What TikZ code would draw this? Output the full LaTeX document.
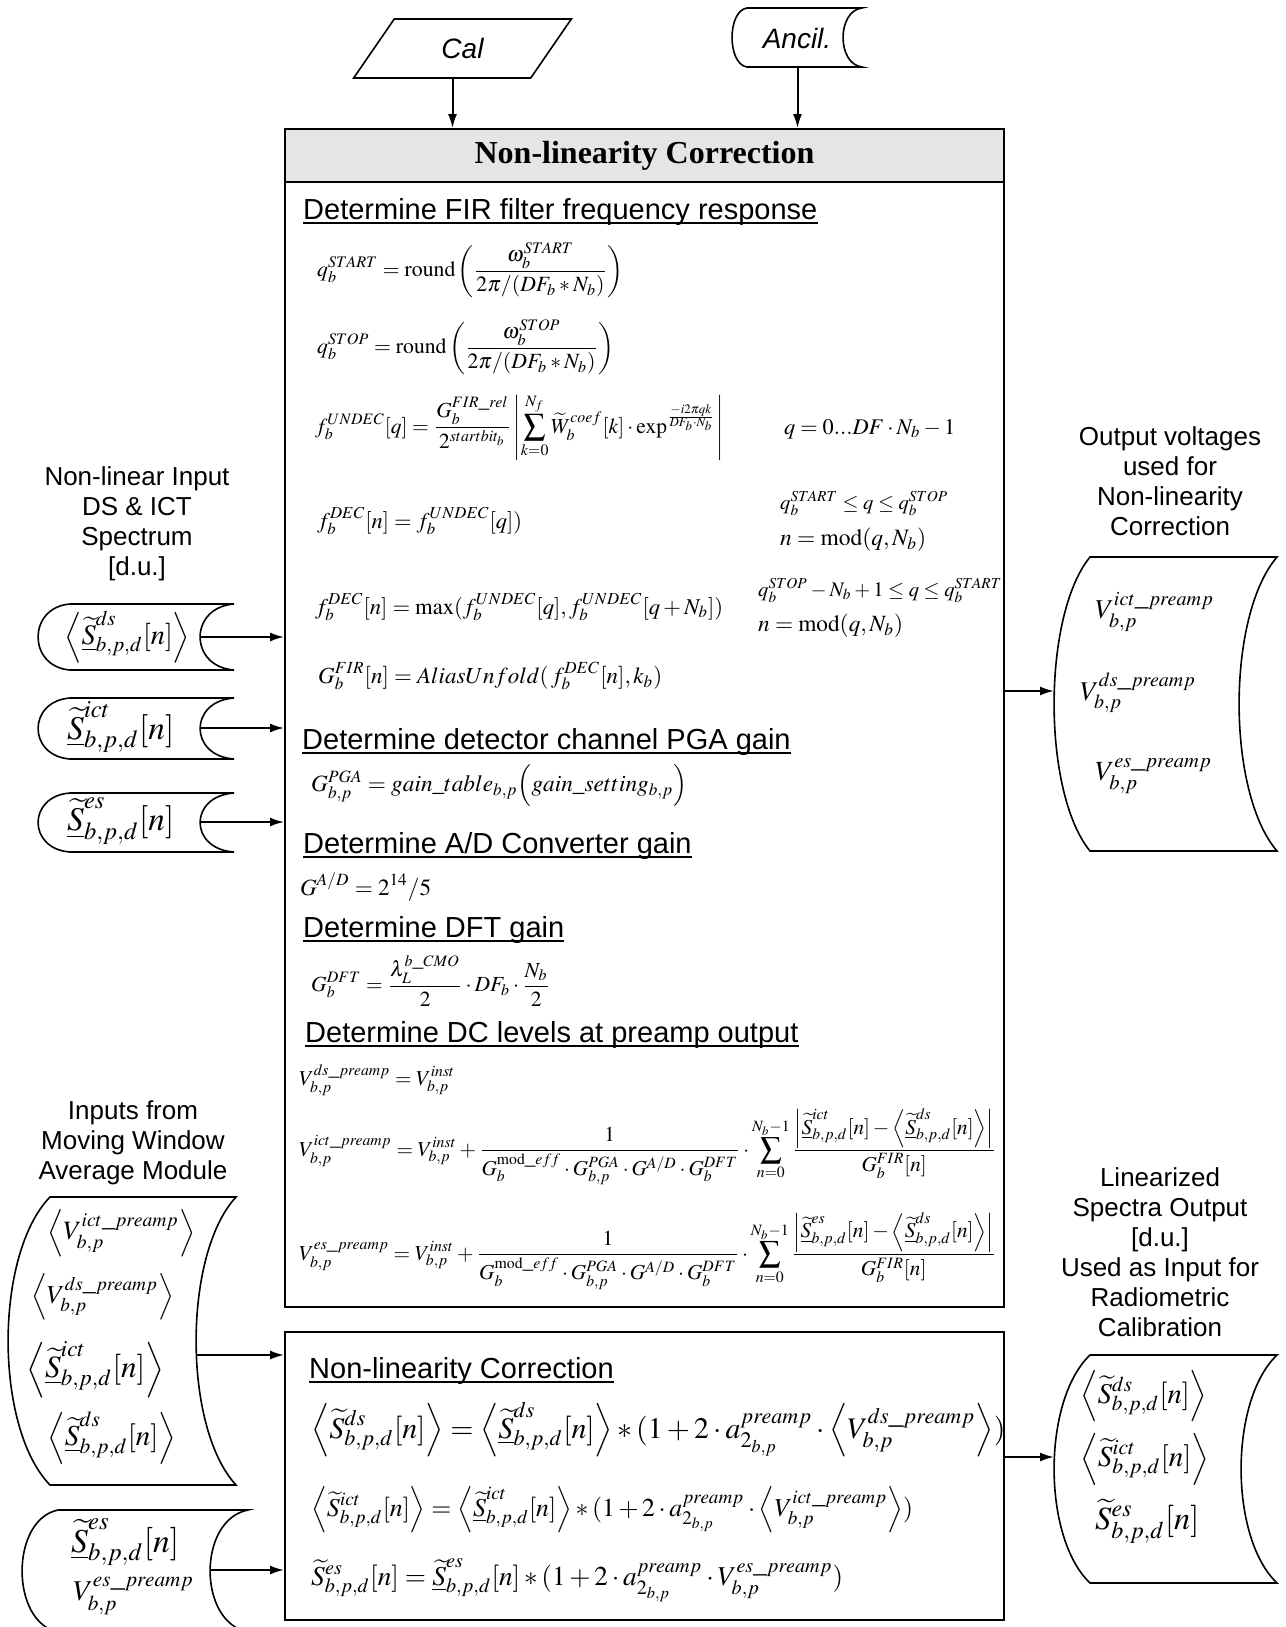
\documentclass[tikz,border=0pt]{standalone}
\usepackage{mathptmx}
\usepackage{graphicx}
\usepackage{fontspec}
\setmainfont{Liberation Serif}
\setsansfont{Liberation Sans}
\usetikzlibrary{arrows.meta, positioning, shapes.geometric, calc}

% symbols used in the spectra
\newcommand{\Stil}{\widetilde{S}}
\newcommand{\Sund}{\underline{\widetilde{S}}}
% equation scaled to a given width (pt)
\newcommand{\eqbox}[2]{\resizebox{#1pt}{!}{$\displaystyle #2$}}
% stored data shape: name, left, right, top, bottom, left bulge, right bulge, corner slope, arrow y
\newcommand{\datastore}[9]{%
  \pgfmathsetmacro{\dsk}{#8*(#5-#4)}%
  \draw[storeline] (#2,#4) -- (#3,#4)
    .. controls ({#3-1.33*#7},{#4+\dsk}) and ({#3-1.33*#7},{#5-\dsk}) .. (#3,#5)
    -- (#2,#5)
    .. controls ({#2-1.33*#6},{#5-\dsk}) and ({#2-1.33*#6},{#4+\dsk}) .. cycle;
  \coordinate (#1-w) at ({#2-#6},#9);
  \coordinate (#1-e) at ({#3-#7},#9);
  \coordinate (#1-s) at ({(#2+#3)/2},#5);
}

\begin{document}
\begin{tikzpicture}[
    x=1pt, y=-1pt,
    >={Latex[length=14pt,width=9pt]},
    box/.style={draw, line width=1.8pt, minimum width=719pt},
    headbar/.style={draw, line width=1.8pt, fill=black!10, minimum width=719pt,
                    minimum height=53pt, font=\fontsize{32}{36}\selectfont\rmfamily\bfseries},
    heading/.style={anchor=base west, inner sep=0pt,
                    font=\fontsize{29}{33}\selectfont\sffamily},
    eq/.style={anchor=west, inner sep=0pt},
    sidelbl/.style={align=center, font=\fontsize{26}{30}\selectfont\sffamily},
    srclbl/.style={font=\fontsize{28}{32}\selectfont\sffamily\itshape},
    storeline/.style={line width=1.6pt},
    flow/.style={->, line width=2pt},
    ulline/.style={line width=2.2pt}
  ]
  \useasboundingbox (0,0) rectangle (1285,1627);

  % inputs on top
  \node[draw, line width=1.6pt, trapezium, trapezium left angle=62, trapezium right angle=118,
        trapezium stretches=true, minimum width=219pt, minimum height=59pt,
        srclbl] (cal) at (462.5,48.5) {Cal};
  \datastore{ancilbox}{747}{862}{8}{67}{15}{19}{0.05}{38}
  \node[srclbl] (ancil) at (797,38) {Ancil.};

  % main block
  \node[box, minimum height=1178pt] (nlc) at (644.5,718) {};
  \node[headbar, anchor=north] (nlchead) at (nlc.north) {Non-linearity Correction};
  \node[box, minimum height=288pt] (nlc2) at (644.5,1476) {};

  \draw[flow] ([xshift=-10pt]cal.south) -- ([xshift=-10pt]cal.south |- nlc.north);
  \draw[flow] ([xshift=-7pt]ancilbox-s) -- ([xshift=-7pt]ancilbox-s |- nlc.north);

  % FIR filter
  \node[heading] (fir) at (303,219) {Determine FIR filter frequency response};
  \node[eq] (qstart) at (317,270) {\eqbox{306}{q_b^{START} = \mathrm{round}\left(\frac{\omega_b^{START}}{2\pi/(DF_b * N_b)}\right)}};
  \node[eq] (qstop) at (317,347) {\eqbox{297}{q_b^{STOP} = \mathrm{round}\left(\frac{\omega_b^{STOP}}{2\pi/(DF_b * N_b)}\right)}};
  \node[eq] (fundec) at (315,427) {\eqbox{408}{f_b^{UNDEC}[q] = \frac{G_b^{FIR\_rel}}{2^{startbit_b}}\left|\sum_{k=0}^{N_f}\widetilde{W}_b^{coef}[k]\cdot\exp^{\frac{-i2\pi qk}{DF_b\cdot N_b}}\right|}};
  \node[eq] (qrange) at (784,429) {\eqbox{171}{q = 0...DF\cdot N_b - 1}};
  \node[eq] (fdec) at (317,521) {\eqbox{205}{f_b^{DEC}[n] = f_b^{UNDEC}[q])}};
  \node[eq] (cond1) at (780,503) {\eqbox{168}{q_b^{START} \le q \le q_b^{STOP}}};
  \node[eq] (mod1) at (780,540) {\eqbox{146}{n = \mathrm{mod}(q, N_b)}};
  \node[eq] (fdecmax) at (315,607) {\eqbox{408}{f_b^{DEC}[n] = \max(f_b^{UNDEC}[q], f_b^{UNDEC}[q+N_b])}};
  \node[eq] (cond2) at (758,590) {\eqbox{244}{q_b^{STOP} - N_b + 1 \le q \le q_b^{START}}};
  \node[eq] (mod2) at (758,626) {\eqbox{145}{n = \mathrm{mod}(q, N_b)}};
  \node[eq] (gfir) at (318,676) {\eqbox{344}{G_b^{FIR}[n] = AliasUnfold(\,f_b^{DEC}[n], k_b)}};

  % gains
  \node[heading] (pga) at (302,749) {Determine detector channel PGA gain};
  \node[eq] (gpga) at (311,786) {\eqbox{376}{G_{b,p}^{PGA} = gain\_table_{b,p}\Bigl(gain\_setting_{b,p}\Bigr)}};
  \node[heading] (adc) at (303,853) {Determine A/D Converter gain};
  \node[eq] (gadc) at (300,887) {\eqbox{131}{G^{A/D} = 2^{14}/5}};
  \node[heading] (dft) at (303,937) {Determine DFT gain};
  \node[eq] (gdft) at (311,981) {\eqbox{239}{G_b^{DFT} = \frac{\lambda_L^{b\_CMO}}{2}\cdot DF_b\cdot\frac{N_b}{2}}};

  % DC levels
  \node[heading] (dcl) at (305,1042) {Determine DC levels at preamp output};
  \node[eq] (vds) at (299,1080) {\eqbox{156}{V_{b,p}^{ds\_preamp} = V_{b,p}^{inst}}};
  \node[eq] (vict) at (299,1147) {\eqbox{697}{V_{b,p}^{ict\_preamp} = V_{b,p}^{inst} + \frac{1}{G_b^{\mathrm{mod}\_eff}\cdot G_{b,p}^{PGA}\cdot G^{A/D}\cdot G_b^{DFT}}\cdot\sum_{n=0}^{N_b-1}\frac{\left|\Sund_{b,p,d}^{ict}[n]-\left\langle\Sund_{b,p,d}^{ds}[n]\right\rangle\right|}{G_b^{FIR}[n]}}};
  \node[eq] (ves) at (299,1251) {\eqbox{697}{V_{b,p}^{es\_preamp} = V_{b,p}^{inst} + \frac{1}{G_b^{\mathrm{mod}\_eff}\cdot G_{b,p}^{PGA}\cdot G^{A/D}\cdot G_b^{DFT}}\cdot\sum_{n=0}^{N_b-1}\frac{\left|\Sund_{b,p,d}^{es}[n]-\left\langle\Sund_{b,p,d}^{ds}[n]\right\rangle\right|}{G_b^{FIR}[n]}}};

  % correction
  \node[heading] (nlchd) at (309,1378) {Non-linearity Correction};
  \node[eq] (corrds) at (311,1430) {\eqbox{694}{\left\langle\Stil_{b,p,d}^{ds}[n]\right\rangle = \left\langle\Sund_{b,p,d}^{ds}[n]\right\rangle * (1 + 2\cdot a_{2_{b,p}}^{preamp}\cdot\left\langle V_{b,p}^{ds\_preamp}\right\rangle)}};
  \node[eq] (corrict) at (311,1510) {\eqbox{602}{\left\langle\Stil_{b,p,d}^{ict}[n]\right\rangle = \left\langle\Sund_{b,p,d}^{ict}[n]\right\rangle * (1 + 2\cdot a_{2_{b,p}}^{preamp}\cdot\left\langle V_{b,p}^{ict\_preamp}\right\rangle)}};
  \node[eq] (corres) at (311,1580) {\eqbox{532}{\Stil_{b,p,d}^{es}[n] = \Sund_{b,p,d}^{es}[n] * (1 + 2\cdot a_{2_{b,p}}^{preamp}\cdot V_{b,p}^{es\_preamp})}};

  \foreach \h in {fir,pga,adc,dft,dcl,nlchd}
    \draw[ulline] ([yshift=-4pt]\h.base west) -- ([yshift=-4pt]\h.base east);

  % non-linear input spectra
  \node[sidelbl] (inlbl) at (137,524) {Non-linear Input\\DS \& ICT\\Spectrum\\{[d.u.]}};
  \datastore{sds}{70}{234}{604}{670}{32}{34}{0.05}{637}
  \node[eq] (sdsm) at (64,637) {\eqbox{126}{\left\langle\Sund_{b,p,d}^{ds}[n]\right\rangle}};
  \datastore{sict}{70}{234}{698}{759}{32}{34}{0.05}{728}
  \node[eq] (sictm) at (67,727) {\eqbox{107}{\Sund_{b,p,d}^{ict}[n]}};
  \datastore{ses}{70}{234}{793}{852}{32}{34}{0.05}{822}
  \node[eq] (sesm) at (67,821) {\eqbox{107}{\Sund_{b,p,d}^{es}[n]}};
  \foreach \s in {sds,sict,ses}
    \draw[flow] (\s-e) -- (\s-e -| nlc.west);

  % output voltages
  \node[sidelbl] (outlbl) at (1170,481) {Output voltages\\used for\\Non-linearity\\Correction};
  \datastore{vout}{1090}{1277}{557}{851}{36}{38}{0.2}{691}
  \node[eq] (voict) at (1095,612) {\eqbox{119}{V_{b,p}^{ict\_preamp}}};
  \node[eq] (vods) at (1080,693) {\eqbox{116}{V_{b,p}^{ds\_preamp}}};
  \node[eq] (voes) at (1095,776) {\eqbox{117}{V_{b,p}^{es\_preamp}}};
  \draw[flow] (vout-w -| nlc.east) -- (vout-w);

  % moving window average inputs
  \node[sidelbl] (mwalbl) at (133,1143) {Inputs from\\Moving Window\\Average Module};
  \datastore{mwa}{50}{236}{1197}{1485}{42}{40}{0.2}{1355}
  \node[eq] (mvict) at (47,1233) {\eqbox{148}{\left\langle V_{b,p}^{ict\_preamp}\right\rangle}};
  \node[eq] (mvds) at (31,1297) {\eqbox{143}{\left\langle V_{b,p}^{ds\_preamp}\right\rangle}};
  \node[eq] (msict) at (26,1370) {\eqbox{138}{\left\langle\Sund_{b,p,d}^{ict}[n]\right\rangle}};
  \node[eq] (msds) at (47,1438) {\eqbox{129}{\left\langle\Sund_{b,p,d}^{ds}[n]\right\rangle}};
  \datastore{esin}{58}{248}{1510}{1632}{36}{38}{0.08}{1570}
  \node[eq] (esins) at (71,1542) {\eqbox{108}{\Sund_{b,p,d}^{es}[n]}};
  \node[eq] (esinv) at (73,1596) {\eqbox{121}{V_{b,p}^{es\_preamp}}};
  \foreach \s in {mwa,esin}
    \draw[flow] (\s-e) -- (\s-e -| nlc2.west);

  % linearized spectra output
  \node[sidelbl] (linlbl) at (1160,1252) {Linearized\\Spectra Output\\{[d.u.]}\\Used as Input for\\Radiometric\\Calibration};
  \datastore{lin}{1090}{1277}{1355}{1583}{36}{36}{0.2}{1457}
  \node[eq] (linds) at (1080,1396) {\eqbox{127}{\left\langle\Stil_{b,p,d}^{ds}[n]\right\rangle}};
  \node[eq] (linict) at (1080,1459) {\eqbox{129}{\left\langle\Stil_{b,p,d}^{ict}[n]\right\rangle}};
  \node[eq] (lines) at (1095,1521) {\eqbox{104}{\Stil_{b,p,d}^{es}[n]}};
  \draw[flow] (lin-w -| nlc2.east) -- (lin-w);
\end{tikzpicture}
\end{document}
